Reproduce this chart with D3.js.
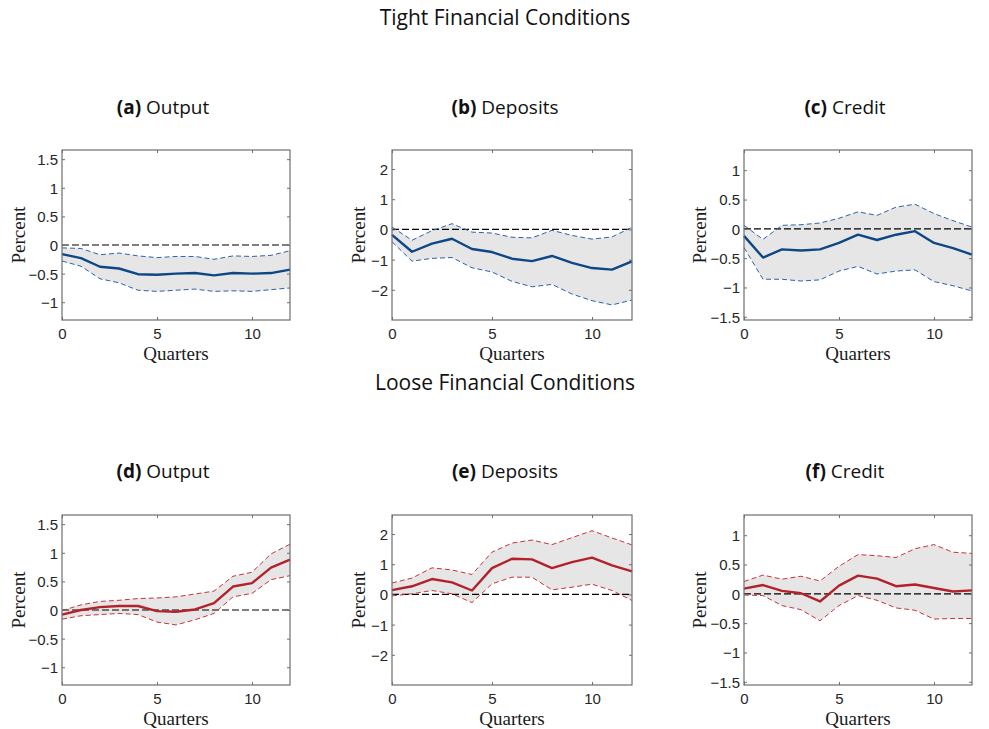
<!DOCTYPE html>
<html>
<head>
<meta charset="utf-8">
<script src="https://cdn.jsdelivr.net/npm/d3@7"></script>
<style>
  html, body { margin: 0; padding: 0; background: #fff; }
  svg { display: block; }
  .tick text { font-family: "Liberation Sans", Arial, sans-serif; font-size: 15px; fill: #262626; }
  .axlabel { font-family: "Liberation Serif", "Times New Roman", serif; font-size: 19px; fill: #1a1a1a; }
  .title { font-family: "Open Sans", "Noto Sans", sans-serif; font-size: 19px; fill: #111; }
  .rowtitle { font-size: 21px; }
</style>
</head>
<body>
<svg id="chart" width="989" height="729"></svg>
<script>
// Impulse responses over 0..12 quarters: median and error bands
const quarters = d3.range(0, 13);

// Tight financial conditions
const outputTightMid = [-0.16, -0.23, -0.38, -0.41, -0.51, -0.52, -0.50, -0.49, -0.53, -0.49, -0.50, -0.49, -0.43];
const outputTightHi  = [-0.05, -0.06, -0.17, -0.14, -0.19, -0.22, -0.20, -0.20, -0.25, -0.19, -0.20, -0.18, -0.10];
const outputTightLo  = [-0.28, -0.37, -0.59, -0.66, -0.79, -0.81, -0.79, -0.77, -0.81, -0.80, -0.81, -0.78, -0.75];

const depositsTightMid = [-0.18, -0.74, -0.47, -0.31, -0.65, -0.75, -0.97, -1.05, -0.88, -1.11, -1.28, -1.33, -1.06];
const depositsTightHi  = [0.08, -0.36, -0.04, 0.19, -0.09, -0.12, -0.26, -0.28, -0.03, -0.20, -0.32, -0.25, 0.07];
const depositsTightLo  = [-0.41, -1.05, -0.96, -0.93, -1.27, -1.41, -1.72, -1.90, -1.82, -2.14, -2.36, -2.50, -2.34];

const creditTightMid = [-0.12, -0.49, -0.35, -0.37, -0.35, -0.24, -0.10, -0.19, -0.10, -0.04, -0.24, -0.33, -0.44];
const creditTightHi  = [0.06, -0.18, 0.06, 0.07, 0.10, 0.18, 0.29, 0.23, 0.37, 0.42, 0.26, 0.14, 0.03];
const creditTightLo  = [-0.32, -0.86, -0.86, -0.89, -0.87, -0.72, -0.64, -0.77, -0.72, -0.70, -0.90, -0.97, -1.06];

// Loose financial conditions
const outputLooseMid = [-0.08, 0.00, 0.05, 0.07, 0.07, -0.02, -0.03, 0.01, 0.12, 0.41, 0.47, 0.74, 0.88];
const outputLooseHi  = [-0.01, 0.09, 0.15, 0.17, 0.20, 0.21, 0.23, 0.28, 0.33, 0.59, 0.66, 0.98, 1.15];
const outputLooseLo  = [-0.16, -0.10, -0.08, -0.06, -0.08, -0.21, -0.26, -0.17, -0.06, 0.23, 0.29, 0.53, 0.60];

const depositsLooseMid = [0.14, 0.27, 0.51, 0.40, 0.13, 0.87, 1.18, 1.16, 0.87, 1.07, 1.22, 0.96, 0.76];
const depositsLooseHi  = [0.38, 0.54, 0.88, 0.81, 0.66, 1.40, 1.70, 1.80, 1.65, 1.88, 2.11, 1.87, 1.64];
const depositsLooseLo  = [-0.05, 0.02, 0.13, 0.02, -0.27, 0.35, 0.57, 0.57, 0.15, 0.24, 0.34, 0.13, -0.20];

const creditLooseMid = [0.09, 0.15, 0.05, 0.01, -0.13, 0.14, 0.31, 0.26, 0.13, 0.16, 0.10, 0.04, 0.06];
const creditLooseHi  = [0.21, 0.32, 0.25, 0.30, 0.22, 0.47, 0.67, 0.65, 0.62, 0.77, 0.84, 0.71, 0.69];
const creditLooseLo  = [-0.02, -0.03, -0.20, -0.27, -0.46, -0.20, -0.03, -0.11, -0.24, -0.28, -0.43, -0.42, -0.42];

// Axis ranges and tick values per variable
const outputTicks   = [-1, -0.5, 0, 0.5, 1, 1.5];
const depositsTicks = [-2, -1, 0, 1, 2];
const creditTicks   = [-1.5, -1, -0.5, 0, 0.5, 1];
const xTicks = [0, 5, 10];

const rowTitles = ["Tight Financial Conditions", "Loose Financial Conditions"];
const panelLetters = [["(a)", "(b)", "(c)"], ["(d)", "(e)", "(f)"]];
const panelNames = ["Output", "Deposits", "Credit"];

const blue = { mid: "#0e4785", band: "#2d63a6" };
const red  = { mid: "#b3222b", band: "#c9333b" };

const columns = [
  { x0: 62,  x1: 290, domain: [-1.31, 1.66],  ticks: outputTicks,   labelX: 25,  subX: 163 },
  { x0: 392, x1: 632, domain: [-3.0, 2.63],   ticks: depositsTicks, labelX: 365, subX: 505 },
  { x0: 744, x1: 972, domain: [-1.555, 1.345], ticks: creditTicks,  labelX: 706, subX: 845 }
];
const rows = [
  { y0: 150, y1: 320, titleY: 25,  subY: 114, colors: blue,
    series: [[outputTightMid, outputTightLo, outputTightHi],
             [depositsTightMid, depositsTightLo, depositsTightHi],
             [creditTightMid, creditTightLo, creditTightHi]] },
  { y0: 515, y1: 685, titleY: 390, subY: 478, colors: red,
    series: [[outputLooseMid, outputLooseLo, outputLooseHi],
             [depositsLooseMid, depositsLooseLo, depositsLooseHi],
             [creditLooseMid, creditLooseLo, creditLooseHi]] }
];

const svg = d3.select("#chart");
const axisColor = "#6e6e6e";

rows.forEach((row, ri) => {
  svg.append("text").attr("class", "title rowtitle")
    .attr("x", 505).attr("y", row.titleY)
    .attr("text-anchor", "middle")
    .text(rowTitles[ri]);

  columns.forEach((col, ci) => {
    const x = d3.scaleLinear().domain([0, 12]).range([col.x0, col.x1]);
    const y = d3.scaleLinear().domain(col.domain).range([row.y1, row.y0]);
    const [mid, lo, hi] = row.series[ci];
    const g = svg.append("g");

    // Panel caption
    const sub = svg.append("text").attr("class", "title")
      .attr("x", col.subX).attr("y", row.subY).attr("text-anchor", "middle");
    sub.append("tspan").attr("font-weight", "bold").text(panelLetters[ri][ci]);
    sub.append("tspan").text(" " + panelNames[ci]);

    // Error band
    const area = d3.area()
      .x((d, i) => x(quarters[i]))
      .y0((d, i) => y(lo[i]))
      .y1((d, i) => y(hi[i]));
    g.append("path").datum(mid).attr("d", area).attr("fill", "#e6e6e6");

    // Zero line
    g.append("line")
      .attr("x1", x(0)).attr("x2", x(12)).attr("y1", y(0)).attr("y2", y(0))
      .attr("stroke", "#000").attr("stroke-width", 1.2).attr("stroke-dasharray", "7,3");

    const line = d3.line().x((d, i) => x(quarters[i])).y(d => y(d));
    [lo, hi].forEach(b => {
      g.append("path").datum(b).attr("d", line)
        .attr("fill", "none").attr("stroke", row.colors.band)
        .attr("stroke-width", 1).attr("stroke-dasharray", "5,3");
    });
    g.append("path").datum(mid).attr("d", line)
      .attr("fill", "none").attr("stroke", row.colors.mid)
      .attr("stroke-width", 2.4).attr("stroke-linejoin", "round");

    // Axes with inward ticks on all four sides
    const tickLen = 3;
    const yAxis = g.append("g").attr("transform", `translate(${col.x0},0)`)
      .call(d3.axisLeft(y).tickValues(col.ticks).tickSizeInner(-tickLen).tickSizeOuter(0)
        .tickPadding(4).tickFormat(d3.format("~g")));
    const yAxisR = g.append("g").attr("transform", `translate(${col.x1},0)`)
      .call(d3.axisRight(y).tickValues(col.ticks).tickSizeInner(-tickLen).tickSizeOuter(0)
        .tickFormat(""));
    const xAxis = g.append("g").attr("transform", `translate(0,${row.y1})`)
      .call(d3.axisBottom(x).tickValues(xTicks).tickSizeInner(-tickLen).tickSizeOuter(0)
        .tickPadding(8).tickFormat(d3.format("d")));
    const xAxisT = g.append("g").attr("transform", `translate(0,${row.y0})`)
      .call(d3.axisTop(x).tickValues(xTicks).tickSizeInner(-tickLen).tickSizeOuter(0)
        .tickFormat(""));
    [yAxis, yAxisR, xAxis, xAxisT].forEach(a => {
      a.select(".domain").remove();
      a.selectAll(".tick line").attr("stroke", axisColor);
    });
    yAxis.selectAll(".tick text").attr("dy", "0.36em");
    xAxis.selectAll(".tick text").attr("dy", "0.72em");

    // Box
    g.append("rect")
      .attr("x", col.x0).attr("y", row.y0)
      .attr("width", col.x1 - col.x0).attr("height", row.y1 - row.y0)
      .attr("fill", "none").attr("stroke", axisColor).attr("stroke-width", 1.2);

    // Axis labels
    g.append("text").attr("class", "axlabel")
      .attr("x", (col.x0 + col.x1) / 2).attr("y", row.y1 + 40)
      .attr("text-anchor", "middle").text("Quarters");
    g.append("text").attr("class", "axlabel")
      .attr("transform", `translate(${col.labelX},${(row.y0 + row.y1) / 2}) rotate(-90)`)
      .attr("text-anchor", "middle").text("Percent");
  });
});
</script>
</body>
</html>
